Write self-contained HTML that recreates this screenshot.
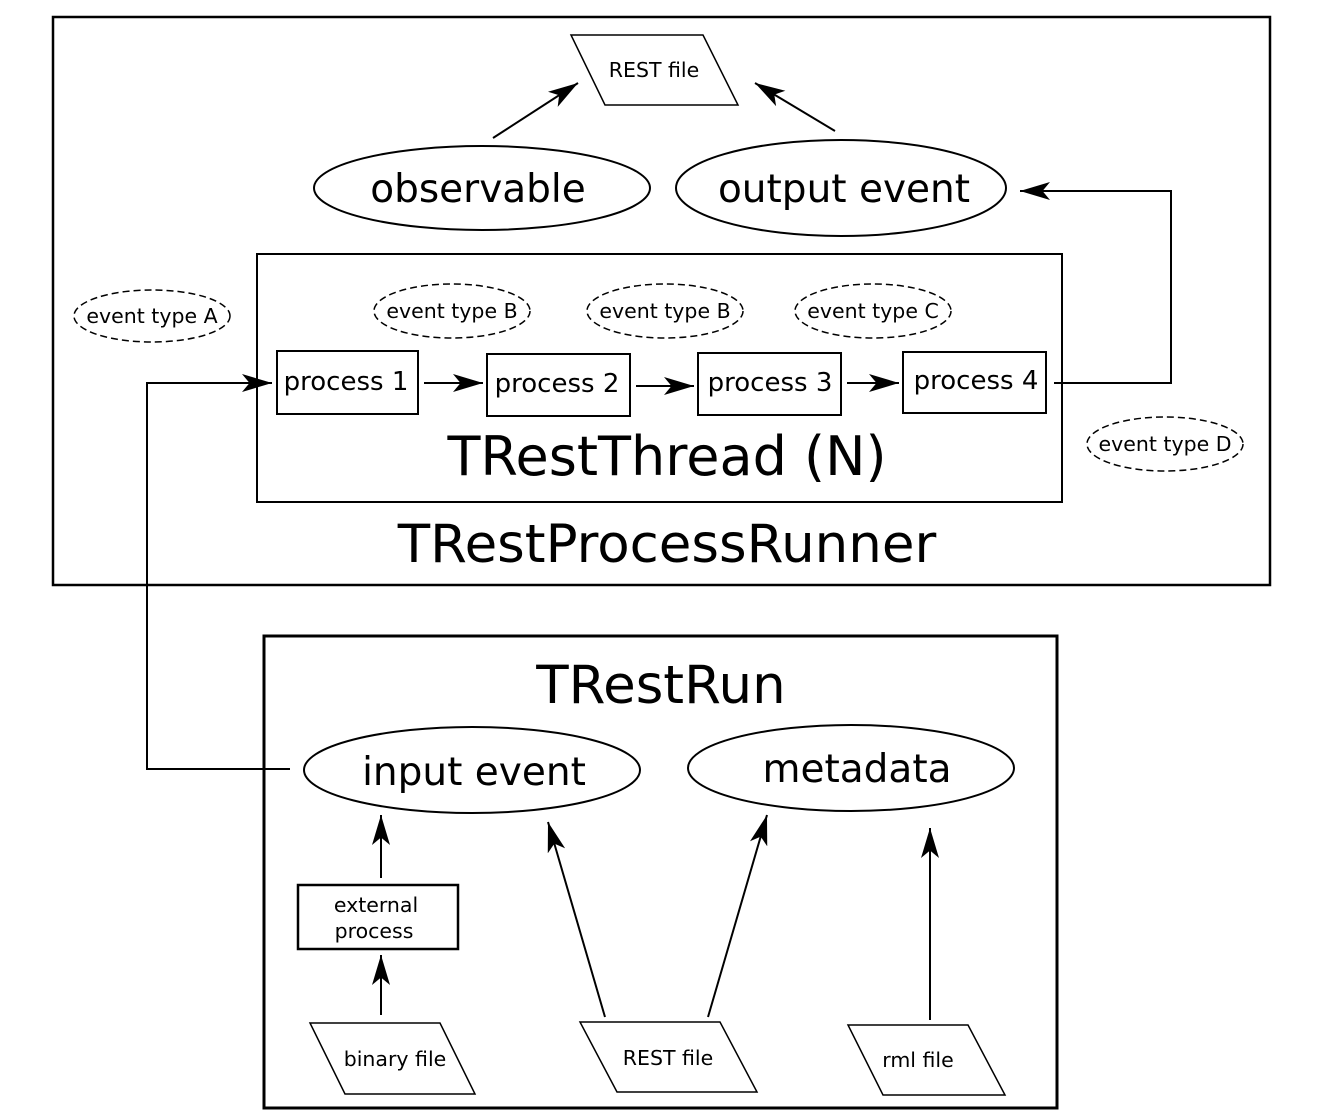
<!DOCTYPE html>
<html><head><meta charset="utf-8"><style>body{margin:0;background:#fff}svg{display:block}text{font-family:"DejaVu Sans","Liberation Sans",sans-serif;fill:#000}</style></head>
<body>
<svg width="1333" height="1118" viewBox="0 0 1333 1118" xmlns="http://www.w3.org/2000/svg">
<defs>
<marker id="m" viewBox="0 0 10 6" refX="10" refY="3" markerWidth="30" markerHeight="18" orient="auto" markerUnits="userSpaceOnUse">
<path d="M0,0 L10,3 L0,6 L2.5,3 Z" fill="#000"/>
</marker>
</defs>
<g fill="none" stroke="#000">
<rect x="53" y="17" width="1217" height="568" stroke-width="2.5"/>
<rect x="257" y="254" width="805" height="248" stroke-width="2"/>
<rect x="264" y="636" width="793" height="472" stroke-width="3"/>
<polygon points="571,35 703,35 738,105 605,105" stroke-width="1.5"/>
<polygon points="310,1023 440,1023 475,1094 345,1094" stroke-width="1.5"/>
<polygon points="580,1022 720,1022 757,1092 617,1092" stroke-width="1.5"/>
<polygon points="848,1025 968,1025 1005,1095 883,1095" stroke-width="1.5"/>
<ellipse cx="482" cy="188" rx="168" ry="42" stroke-width="2"/>
<ellipse cx="841" cy="188" rx="165" ry="48" stroke-width="2"/>
<ellipse cx="472" cy="770" rx="168" ry="43" stroke-width="2"/>
<ellipse cx="851" cy="768" rx="163" ry="43" stroke-width="2"/>
<g stroke-dasharray="7,4" stroke-width="1.5">
<ellipse cx="152" cy="316" rx="78" ry="26"/>
<ellipse cx="452" cy="311" rx="78" ry="27"/>
<ellipse cx="665" cy="311" rx="78" ry="27"/>
<ellipse cx="873" cy="311" rx="78" ry="27"/>
<ellipse cx="1165" cy="444" rx="78" ry="27"/>
</g>
<g stroke-width="2">
<rect x="277" y="351" width="141" height="63"/>
<rect x="487" y="354" width="143" height="62"/>
<rect x="698" y="353" width="143" height="62"/>
<rect x="903" y="352" width="143" height="61"/>
<rect x="298" y="885" width="160" height="64" stroke-width="2.5"/>
<line x1="493" y1="138" x2="578" y2="83" marker-end="url(#m)"/>
<line x1="835" y1="131" x2="755" y2="83" marker-end="url(#m)"/>
<line x1="424" y1="383" x2="483" y2="383" marker-end="url(#m)"/>
<line x1="636" y1="386" x2="694" y2="386" marker-end="url(#m)"/>
<line x1="847" y1="383" x2="899" y2="383" marker-end="url(#m)"/>
<polyline points="1054,383 1171,383 1171,191 1020,191" marker-end="url(#m)"/>
<polyline points="290,769 147,769 147,383 272,383" marker-end="url(#m)"/>
<line x1="381" y1="878" x2="381" y2="815" marker-end="url(#m)"/>
<line x1="381" y1="1015" x2="381" y2="955" marker-end="url(#m)"/>
<line x1="605" y1="1017" x2="548" y2="822" marker-end="url(#m)"/>
<line x1="708" y1="1017" x2="767" y2="815" marker-end="url(#m)"/>
<line x1="930" y1="1020" x2="930" y2="828" marker-end="url(#m)"/>
</g>
</g>
<g text-anchor="middle">
<text x="654" y="77" font-size="20.5">REST file</text>
<text x="478" y="202" font-size="39">observable</text>
<text x="844" y="202" font-size="39">output event</text>
<text x="152" y="323" font-size="20.5">event type A</text>
<text x="452" y="318" font-size="20.5">event type B</text>
<text x="665" y="318" font-size="20.5">event type B</text>
<text x="873" y="318" font-size="20.5">event type C</text>
<text x="1165" y="451" font-size="20.5">event type D</text>
<text x="346" y="390" font-size="26">process 1</text>
<text x="557" y="392" font-size="26">process 2</text>
<text x="770" y="391" font-size="26">process 3</text>
<text x="976" y="389" font-size="26">process 4</text>
<text x="667" y="475" font-size="54">TRestThread (N)</text>
<text x="667" y="562" font-size="53">TRestProcessRunner</text>
<text x="661" y="703" font-size="53">TRestRun</text>
<text x="474" y="785" font-size="39">input event</text>
<text x="857" y="782" font-size="39">metadata</text>
<text x="376" y="912" font-size="20.5">external</text>
<text x="374" y="938" font-size="20.5">process</text>
<text x="395" y="1066" font-size="20.5">binary file</text>
<text x="668" y="1065" font-size="20.5">REST file</text>
<text x="918" y="1067" font-size="20.5">rml file</text>
</g>
</svg>
</body></html>
